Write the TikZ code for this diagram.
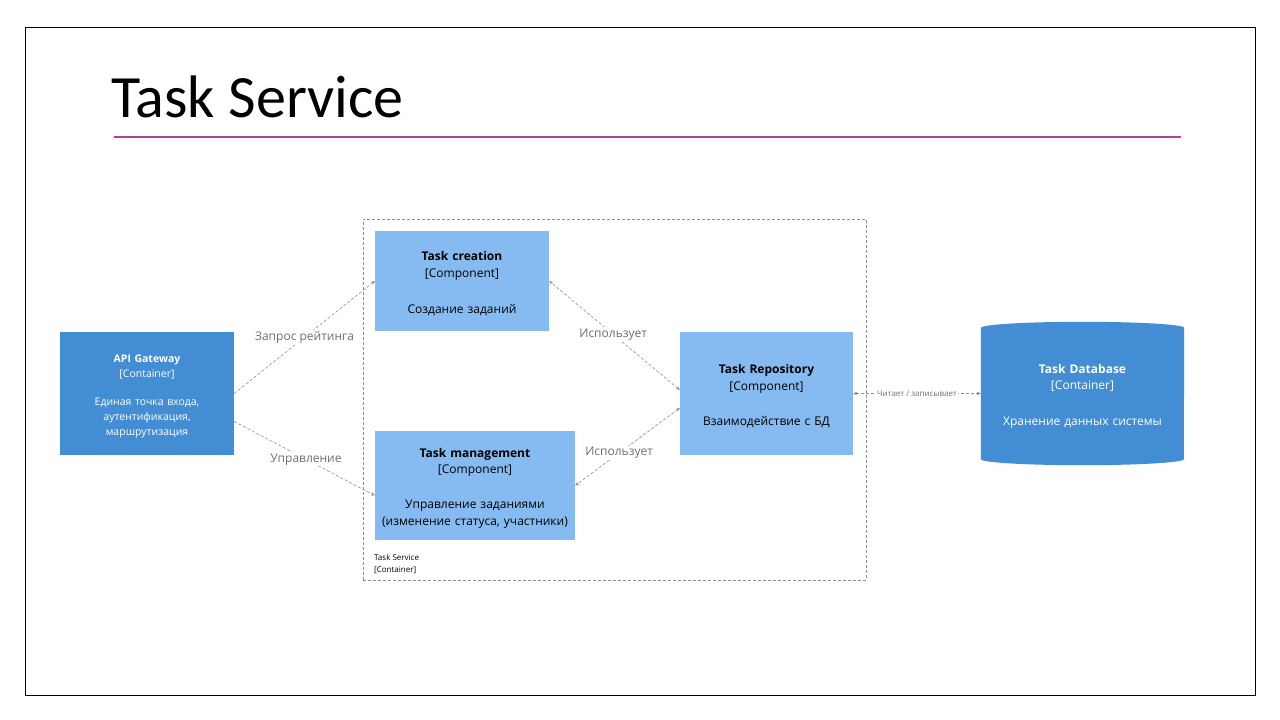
\documentclass[tikz,border=0pt]{standalone}
\usepackage{fontspec}
\setmainfont{Open Sans}
\newfontfamily\titlefont{Carlito}
\usetikzlibrary{arrows.meta,backgrounds}
\definecolor{compblue}{HTML}{85BBF0}
\definecolor{contblue}{HTML}{438DD5}
\definecolor{linkgray}{HTML}{8E8E8E}
\definecolor{lblgray}{HTML}{707070}
\definecolor{rulepink}{HTML}{B5408C}
\tikzset{
  comp/.style={fill=compblue, inner sep=0pt, align=center, font=\fontsize{12}{16.5}\selectfont, execute at begin node={\rule{0pt}{1.2em}}},
  cont/.style={fill=contblue, text=white, inner sep=0pt, align=center, execute at begin node={\rule{0pt}{1.2em}}},
  link/.style={draw=linkgray, dash pattern=on 3pt off 2pt, line width=0.6pt, >={Stealth[length=4pt,width=3.5pt]}, ->},
  bilink/.style={link, <->},
  linklbl/.style={fill=white, text=lblgray, inner sep=1.5pt, font=\fontsize{12}{14}\selectfont},
}
\begin{document}
\begin{tikzpicture}[x=1pt,y=-1pt]
\useasboundingbox (0,0) rectangle (1280,720);
\begin{scope}[on background layer]
  \fill[white] (0,0) rectangle (1280,720);
\end{scope}
\draw[line width=1pt] (25,27) rectangle (1255,695);
\node[anchor=base west, inner sep=0pt, font=\titlefont\fontsize{60}{62}\selectfont] (title) at (111,117) {Task Service};
\draw[rulepink, line width=2pt] (114,137) -- (1181,137);

% container boundary
\node[draw=linkgray, dash pattern=on 3pt off 2pt, line width=0.6pt, minimum width=503pt, minimum height=361pt] (svc) at (614.5,399.5) {};
\node[anchor=north west, align=left, inner sep=0pt, font=\fontsize{8}{12}\selectfont] (svclbl) at (374,554) {Task Service\\{[Container]}};

% components
\node[comp, text width=174pt, minimum width=174pt, minimum height=100pt] (create) at (462,281) {\textbf{Task creation}\\{[Component]}\\[19.5pt]Создание заданий};
\node[comp, text width=200pt, minimum width=200pt, minimum height=109pt] (manage) at (475,485.5) {\textbf{Task management}\\{[Component]}\\[18.5pt]Управление заданиями\\(изменение статуса, участники)};
\node[comp, text width=173pt, minimum width=173pt, minimum height=123pt] (repo) at (766.5,393.5) {\textbf{Task Repository}\\{[Component]}\\[19pt]Взаимодействие с БД};

% containers
\node[cont, text width=174pt, minimum width=174pt, minimum height=123pt, font=\fontsize{10.5}{15}\selectfont] (api) at (147,393.5) {\textbf{API Gateway}\\{[Container]}\\[13pt]Единая точка входа,\\аутентификация,\\маршрутизация};
\node[cont, fill=none, text width=203pt, minimum width=203pt, minimum height=143pt, font=\fontsize{12}{16.5}\selectfont] (db) at (1082.5,393.5) {\textbf{Task Database}\\{[Container]}\\[19pt]Хранение данных системы};
\begin{scope}[on background layer]
  \fill[contblue] ([yshift=-6pt]db.north west) -- ([yshift=6pt]db.south west)
    arc[start angle=180, end angle=360, x radius=101.5pt, y radius=6pt]
    -- ([yshift=-6pt]db.north east)
    arc[start angle=0, end angle=180, x radius=101.5pt, y radius=6pt] -- cycle;
\end{scope}

% relations
\draw[link] (api.east) -- (create.west) node[linklbl, midway] (lblrate) {Запрос рейтинга};
\draw[link] ([yshift=-28pt]api.east) -- ([yshift=-10pt]manage.west) node[linklbl, pos=0.51] (lblmanage) {Управление};
\draw[bilink] ([yshift=3.5pt]repo.west) -- (create.east) node[linklbl, pos=0.51] (lbluse1) {Использует};
\draw[bilink] ([yshift=-14.5pt]repo.west) -- (manage.east) node[linklbl, pos=0.58] (lbluse2) {Использует};
\draw[bilink] (repo.east) -- (db.west) node[linklbl, midway, inner sep=1pt, font=\fontsize{8}{10}\selectfont] (lbldb) {Читает / записывает};
\end{tikzpicture}
\end{document}
